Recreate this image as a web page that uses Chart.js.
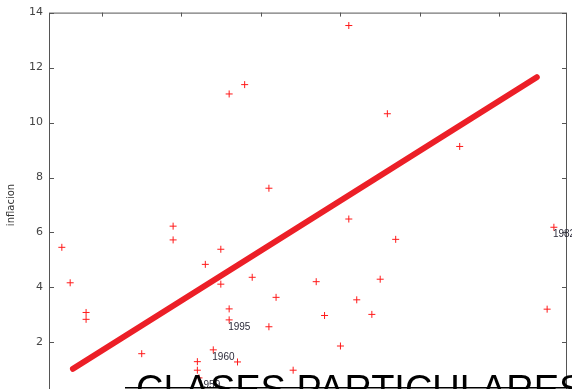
<!DOCTYPE html>
<html>
<head>
<meta charset="utf-8">
<script src="https://cdn.jsdelivr.net/npm/chart.js@4.4.0/dist/chart.umd.min.js"></script>
<style>
  html, body { margin: 0; padding: 0; background: #fff; }
  #wrap { width: 572px; height: 389px; overflow: hidden; position: relative; }
</style>
</head>
<body>
<div id="wrap"><canvas id="chart" width="572" height="410"></canvas></div>
<script>
// scatter points (x = unidades del eje horizontal, y = inflacion)
const xValues = [0.99, 1.20, 1.60, 1.60, 3.00, 3.79, 3.79, 4.40, 4.40, 4.44, 4.60, 4.80, 4.99, 4.99,
  5.20, 5.20, 5.20, 5.41, 5.59, 5.78, 6.20, 6.20, 6.38, 6.81, 7.39, 7.60, 8.00, 8.21, 8.21,
  8.41, 8.79, 9.00, 9.18, 9.39, 11.00, 13.20, 13.37];
const yValues = [5.46, 4.17, 3.09, 2.84, 1.59, 6.23, 5.73, 1.30, 0.99, 0.71, 4.84, 1.73, 5.39, 4.12,
  11.04, 3.22, 2.82, 1.29, 11.38, 4.37, 7.61, 2.57, 3.64, 0.99, 4.21, 2.98, 1.87, 13.53, 6.49,
  3.55, 3.02, 4.30, 10.32, 5.75, 9.13, 3.21, 6.19];

// labelled years
const labelText = ["1995", "1960", "1959", "1982"];
const labelX = [5.20, 4.80, 4.44, 13.37];
const labelY = [2.82, 1.73, 0.71, 6.19];

// fitted line ends
const fitX = [1.27, 12.94];
const fitY = [1.04, 11.65];

const yTicks = [0, 2, 4, 6, 8, 10, 12, 14];
const xTicks = [2, 4, 6, 8, 10, 12];

const framePlugin = {
  id: "frame",
  afterDraw(chart) {
    const { ctx, chartArea: a, scales } = chart;
    ctx.save();
    ctx.strokeStyle = "#555";
    ctx.lineWidth = 1;
    ctx.strokeRect(a.left + 0.5, a.top + 0.5, a.right - a.left - 1, a.bottom - a.top);
    ctx.beginPath();
    yTicks.forEach(v => {
      const y = Math.round(scales.y.getPixelForValue(v)) + 0.5;
      ctx.moveTo(a.left, y); ctx.lineTo(a.left + 5, y);
      ctx.moveTo(a.right, y); ctx.lineTo(a.right - 5, y);
    });
    xTicks.forEach(v => {
      const x = Math.round(scales.x.getPixelForValue(v)) + 0.5;
      ctx.moveTo(x, a.top); ctx.lineTo(x, a.top + 4);
      ctx.moveTo(x, a.bottom); ctx.lineTo(x, a.bottom - 4);
    });
    ctx.stroke();

    // year labels
    ctx.fillStyle = "#2b2b3a";
    ctx.font = '10px "Liberation Sans"';
    ctx.textBaseline = "middle";
    labelText.forEach((t, i) => {
      const x = scales.x.getPixelForValue(labelX[i]);
      const y = scales.y.getPixelForValue(labelY[i]);
      ctx.fillText(t, x - 1, y + 7);
    });

    // watermark
    ctx.fillStyle = "#000";
    ctx.fillRect(125, 387, 447, 1.5);
    ctx.font = '38px "Liberation Sans"';
    ctx.textBaseline = "alphabetic";
    ctx.fillText("CLASES PARTICULARES", 136, 402);
    ctx.restore();
  }
};

new Chart(document.getElementById("chart"), {
  type: "scatter",
  data: {
    datasets: [
      {
        data: xValues.map((x, i) => ({ x, y: yValues[i] })),
        pointStyle: "cross",
        pointRadius: 3.5,
        borderColor: "#ff1a1a",
        borderWidth: 1,
        backgroundColor: "#ff1a1a",
        order: 2
      },
      {
        type: "line",
        data: fitX.map((x, i) => ({ x, y: fitY[i] })),
        borderColor: "#ec1f27",
        borderWidth: 6,
        borderCapStyle: "round",
        pointRadius: 0,
        order: 1
      }
    ]
  },
  options: {
    responsive: false,
    animation: false,
    layout: { padding: { top: 10, right: 5, bottom: 12, left: 0 } },
    plugins: { legend: { display: false }, tooltip: { enabled: false } },
    scales: {
      x: {
        type: "linear",
        min: 0.667,
        max: 13.7,
        display: false
      },
      y: {
        min: 0,
        max: 14,
        afterFit: s => { s.width = 49; },
        grid: { display: false, drawTicks: false },
        border: { display: false },
        ticks: {
          stepSize: 2,
          padding: 6,
          color: "#444",
          font: { family: "DejaVu Sans", size: 11 }
        },
        title: {
          display: true,
          text: "inflacion",
          color: "#333",
          font: { family: "DejaVu Sans", size: 10 },
          padding: { top: 5, bottom: 0 }
        }
      }
    }
  },
  plugins: [framePlugin]
});
</script>
</body>
</html>
